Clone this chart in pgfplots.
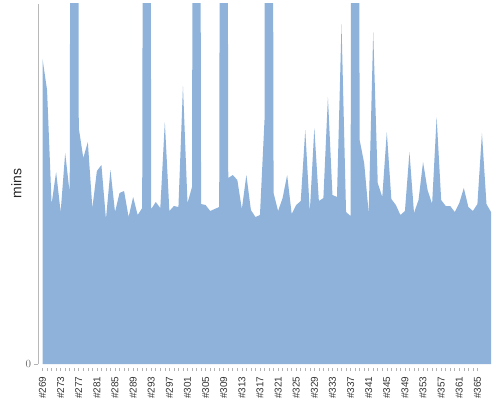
\documentclass[border=0pt]{standalone}
\usepackage{pgfplots}
\pgfplotsset{compat=1.18}
\usepackage{fontspec}
\setmainfont{Liberation Sans}
\definecolor{areablue}{RGB}{143,178,218}
\pgfplotstableread{
x y
269 305
270 274
271 160
272 192
273 152
274 211
275 171
276 2500
277 236
278 206
279 222
280 156
281 193
282 199
283 145
284 194
285 152
286 171
287 173
288 147
289 167
290 149
291 156
292 2500
293 155
294 162
295 156
296 242
297 153
298 158
299 157
300 278
301 161
302 177
303 2500
304 160
305 159
306 153
307 155
308 157
309 2500
310 186
311 189
312 184
313 155
314 189
315 154
316 147
317 149
318 244
319 2500
320 171
321 153
322 166
323 189
324 150
325 159
326 163
327 234
328 152
329 236
330 163
331 166
332 267
333 169
334 167
335 340
336 152
337 148
338 2500
339 224
340 201
341 151
342 332
343 181
344 167
345 232
346 165
347 159
348 149
349 153
350 212
351 151
352 164
353 202
354 174
355 160
356 247
357 164
358 158
359 158
360 152
361 161
362 176
363 157
364 153
365 160
366 231
367 160
368 152
}\mins
\begin{document}
\begin{tikzpicture}
\path[use as bounding box] (-38bp,-36bp) rectangle (462bp,364bp);
\begin{axis}[
  at={(0,0)}, anchor=south west,
  scale only axis, width=453bp, height=360bp,
  xmin=268, xmax=368, ymin=0, ymax=360,
  axis lines*=left,
  x axis line style={draw=none},
  y axis line style={-, draw=black!28, line width=0.8pt},
  tick align=outside,
  xtick={269,273,...,365},
  xticklabels={\#269,\#273,\#277,\#281,\#285,\#289,\#293,\#297,\#301,\#305,\#309,\#313,\#317,\#321,\#325,\#329,\#333,\#337,\#341,\#345,\#349,\#353,\#357,\#361,\#365},
  minor x tick num=3,
  major tick length=3.5bp, minor tick length=3.5bp,
  tick style={black!30, line width=0.6pt},
  x tick style={yshift=-3.5bp},
  ytick={0},
  xticklabel style={yshift=-9bp, rotate=90, anchor=east, font=\fontsize{10}{12}\selectfont, text=black!80, inner sep=0pt},
  yticklabel style={font=\fontsize{10.5}{12}\selectfont, text=black!60},
  ylabel={mins},
  ylabel style={at={(axis description cs:-0.0475,0.501)}, anchor=center, font=\fontsize{14}{16}\selectfont, text=black!85},
]
\addplot[fill=areablue, draw=none] table[x=x, y=y] {\mins} \closedcycle;
\end{axis}
\end{tikzpicture}
\end{document}
